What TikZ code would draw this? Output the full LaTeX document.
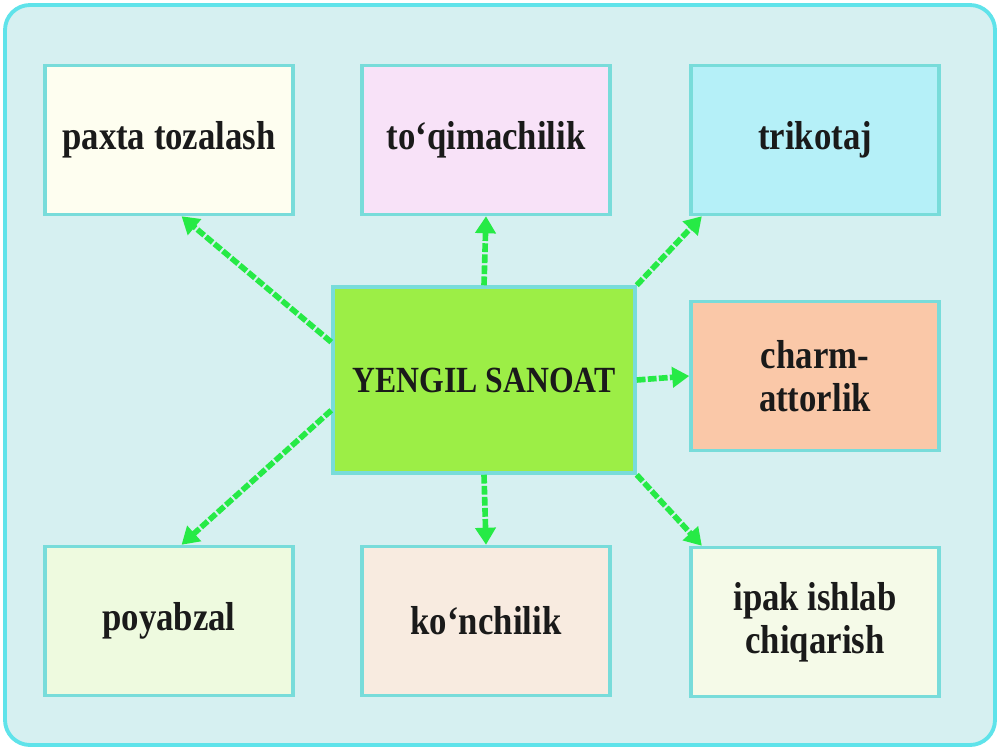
\documentclass[tikz,border=0pt]{standalone}
\usepackage{fontspec}
\setmainfont{Liberation Serif}[FakeStretch=0.86]
\usetikzlibrary{arrows.meta,calc}

\definecolor{bgcyan}{HTML}{D6F0F1}
\definecolor{framecyan}{HTML}{5FE3EA}
\definecolor{boxline}{HTML}{78DCDA}
\definecolor{linkgreen}{HTML}{26EA46}
\definecolor{textdark}{HTML}{1A1A1A}
\definecolor{fillpaxta}{HTML}{FEFEF0}
\definecolor{filltoqim}{HTML}{F8E2F8}
\definecolor{filltrik}{HTML}{B5F0F8}
\definecolor{fillcharm}{HTML}{FAC8A8}
\definecolor{fillipak}{HTML}{F5FAE8}
\definecolor{fillkonch}{HTML}{F8EBE0}
\definecolor{fillpoyab}{HTML}{EEFADF}
\definecolor{fillyengil}{HTML}{9CEE46}

\tikzset{
  branch/.style={draw=boxline, line width=2pt, minimum width=49.6mm, minimum height=29.8mm,
    align=center, text=textdark, font=\fontsize{23}{24.5}\selectfont\bfseries},
  link/.style={linkgreen, line width=3.2pt, dash pattern=on 5pt off 1.3pt,
    -{Triangle[length=3.4mm,width=4mm]}},
}

\begin{document}
\begin{tikzpicture}[x=0.2mm,y=-0.2mm]

\useasboundingbox (0,0) rectangle (1000,750);
\draw[framecyan, fill=bgcyan, line width=2.2pt, rounded corners=5mm] (5,5) rectangle (995,745);

\node[branch, fill=fillpaxta] (paxta) at (169,140) {paxta tozalash};
\node[branch, fill=filltoqim] (toqim) at (486,140) {to‘qimachilik};
\node[branch, fill=filltrik] (trik) at (815,140) {trikotaj};
\node[branch, fill=fillcharm] (charm) at (815,376) {charm-\\attorlik};
\node[branch, fill=fillipak] (ipak) at (815,622) {ipak ishlab\\chiqarish};
\node[branch, fill=fillkonch] (konch) at (486,621) {ko‘nchilik};
\node[branch, fill=fillpoyab] (poyab) at (169,621) {poyabzal};

\node[draw=boxline, fill=fillyengil, line width=2pt, minimum width=60.4mm, minimum height=37.2mm,
  text=textdark, font=\fontsize{21}{22}\selectfont\bfseries] (yengil) at (484,380) {YENGIL SANOAT};

\draw[link] ($(yengil.north west)!0.3!(yengil.south west)$) -- ($(paxta.south west)!0.55!(paxta.south east)$);
\draw[link] (yengil.north) -- (toqim.south);
\draw[link] (yengil.north east) -- ($(trik.south west)!0.05!(trik.south east)$);
\draw[link] (yengil.east) -- (charm.west);
\draw[link] (yengil.south east) -- ($(ipak.north west)!0.05!(ipak.north east)$);
\draw[link] (yengil.south) -- (konch.north);
\draw[link] ($(yengil.north west)!0.66!(yengil.south west)$) -- ($(poyab.north west)!0.55!(poyab.north east)$);

\end{tikzpicture}
\end{document}
